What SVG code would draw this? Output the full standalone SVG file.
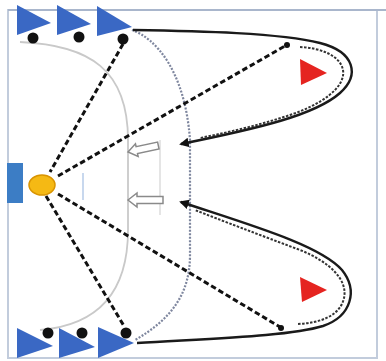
<svg xmlns="http://www.w3.org/2000/svg" width="386" height="361" viewBox="0 0 386 361">
<style>
.player{fill:#3A68C4}
.dot{fill:#111}
.run{fill:none;stroke:#1a1a1a;stroke-width:2.4}
.dribble{fill:none;stroke:#333;stroke-width:2;stroke-dasharray:2.5 1.5}
.pass{fill:none;stroke:#111;stroke-width:3;stroke-dasharray:5.5 3}
.cone{fill:#E52420}
.hollow{fill:#fff;stroke:#8a8a8a;stroke-width:1.5}
</style>
<defs>
<marker id="ah" viewBox="0 0 10 10" refX="8" refY="5" markerWidth="4" markerHeight="4" orient="auto">
<path d="M0,0 L10,5 L0,10 z" fill="#111"/>
</marker>
</defs>
<rect x="0" y="0" width="386" height="361" fill="#fff"/>
<g id="field">
<rect x="8" y="10" width="369" height="348" fill="#fff" stroke="#C2CCDC" stroke-width="2"/>
<line x1="8" y1="10" x2="386" y2="10" stroke="#A9B6CC" stroke-width="2"/>
<path d="M20 42 C90 45 128 70 128 140 L128 230 C128 290 100 325 40 330" fill="none" stroke="#C9C9C9" stroke-width="1.8"/>
<path d="M132 30 C155 38 185 70 190 140 L190 255 C190 295 170 320 135 340" fill="none" stroke="#7E869E" stroke-width="2.2" stroke-dasharray="2 1.5"/>
<line x1="160" y1="140" x2="160" y2="215" stroke="#DDDDDD" stroke-width="1.5"/>
<line x1="83" y1="173" x2="83" y2="200" stroke="#C8D8EE" stroke-width="2"/>
</g>
<g id="goal"><rect x="7" y="163" width="16" height="40" fill="#3C7DC5"/></g>
<g id="connectors">
<path class="run" d="M133 30 C200 31 280 33 320 43 C355 52 360 75 340 93 C315 115 260 128 181 144" marker-end="url(#ah)"/>
<path class="dribble" d="M300 47 C320 48 340 55 343 70 C346 88 320 105 290 115 C260 125 230 132 200 138"/>
<path class="run" d="M137 343 C220 338 290 336 323 326 C352 316 358 290 342 270 C320 245 250 225 181 202" marker-end="url(#ah)"/>
<path class="dribble" d="M298 324 C320 323 340 316 344 298 C348 280 330 262 300 250 C260 235 220 220 195 210"/>
<line class="pass" x1="123" y1="44" x2="50" y2="172"/>
<line class="pass" x1="58" y1="176" x2="285" y2="46"/>
<line class="pass" x1="46" y1="196" x2="124" y2="326"/>
<line class="pass" x1="58" y1="194" x2="280" y2="327"/>
<circle cx="287" cy="45" r="3" class="dot"/>
<circle cx="281" cy="328" r="3" class="dot"/>
</g>
<g id="arrow1"><polygon class="hollow" transform="translate(128,152) rotate(-12)" points="0,0 9,-6.5 9,-3.5 31,-3.5 31,3.5 9,3.5 9,6.5"/></g>
<g id="arrow2"><polygon class="hollow" transform="translate(128,200)" points="0,0 9,-7 9,-3.5 35,-3.5 35,3.5 9,3.5 9,7"/></g>
<g id="goalkeeper"><ellipse cx="42" cy="185" rx="13" ry="10" fill="#F5B914" stroke="#D99400" stroke-width="1.5"/></g>
<g id="cone-top"><polygon class="cone" points="300,59 301,85 327,73"/></g>
<g id="cone-bottom"><polygon class="cone" points="300,277 302,302 327,290"/></g>
<g id="player-t1"><polygon class="player" points="17,5 17,35 51,23"/><circle class="dot" cx="33" cy="38" r="5.5"/></g>
<g id="player-t2"><polygon class="player" points="57,5 57,35 91,24"/><circle class="dot" cx="79" cy="37" r="5.5"/></g>
<g id="player-t3"><polygon class="player" points="97,6 97,36 132,27"/><circle class="dot" cx="123" cy="39" r="5.5"/></g>
<g id="player-b1"><polygon class="player" points="17,328 17,358 53,346"/><circle class="dot" cx="48" cy="333" r="5.5"/></g>
<g id="player-b2"><polygon class="player" points="59,328 59,358 95,347"/><circle class="dot" cx="82" cy="333" r="5.5"/></g>
<g id="player-b3"><polygon class="player" points="98,327 98,358 134,343"/><circle class="dot" cx="126" cy="333" r="5.5"/></g>
</svg>
